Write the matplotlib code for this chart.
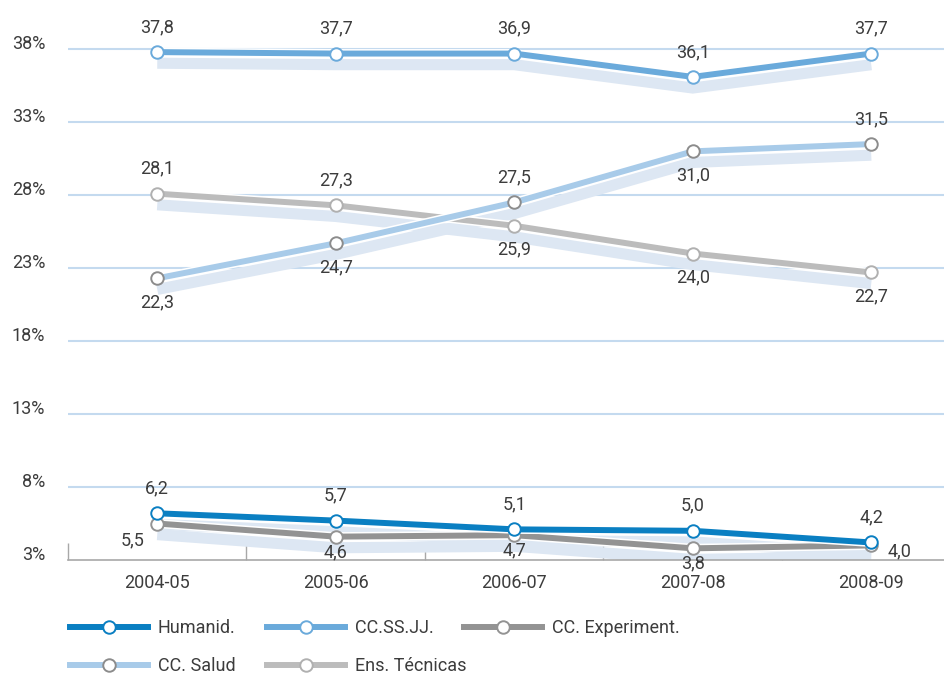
import matplotlib
matplotlib.use("Agg")
import matplotlib.pyplot as plt
import matplotlib.patheffects as pe
from matplotlib.lines import Line2D
from matplotlib.transforms import offset_copy, ScaledTranslation

plt.rcParams['font.family'] = ['Roboto', 'DejaVu Sans']

years = ['2004-05', '2005-06', '2006-07', '2007-08', '2008-09']
yticks = [3, 8, 13, 18, 23, 28, 33, 38]

humanid = [6.2, 5.7, 5.1, 5.0, 4.2]
ccssjj = [37.8, 37.7, 37.7, 36.1, 37.7]
ccssjj_lab = ['37,8', '37,7', '36,9', '36,1', '37,7']
experiment = [5.5, 4.6, 4.7, 3.8, 4.0]
salud = [22.3, 24.7, 27.5, 31.0, 31.5]
tecnicas = [28.1, 27.3, 25.9, 24.0, 22.7]

def fmt(vals):
    return [f"{v:.1f}".replace('.', ',') for v in vals]

txt_col = '#3c3c3c'
shadow_col = '#dde7f3'
fs = 13

# name, values, labels, line colour, marker edge colour, label placement
series = [
    ('CC.SS.JJ.', ccssjj, ccssjj_lab, '#6aaadb', '#6aaadb', 'aaaaa'),
    ('Ens. Técnicas', tecnicas, fmt(tecnicas), '#bcbcbc', '#b0b0b0', 'aabbb'),
    ('CC. Salud', salud, fmt(salud), '#a8cbe9', '#8c8c8c', 'bbaba'),
    ('CC. Experiment.', experiment, fmt(experiment), '#939393', '#939393', 'lsssr'),
    ('Humanid.', humanid, fmt(humanid), '#0a7fc2', '#0a7fc2', 'aaaaa'),
]
offsets = {'a': (0, 18), 'b': (0, -17), 's': (0, -11), 'l': (-18, -12), 'r': (20, -4)}

fig = plt.figure(figsize=(9.45, 6.75), dpi=100)
ax = fig.add_axes([68/945, 1 - 560/675, 1 - 68/945, (560 - 20)/675])
x = list(range(len(years)))

shadow_tr = offset_copy(ax.transData, fig=fig, x=0, y=-8, units='points')
for name, vals, labs, col, ecol, pos in series:
    ax.plot(x, vals, color=shadow_col, lw=8, transform=shadow_tr,
            solid_capstyle='butt', solid_joinstyle='miter', zorder=2)

handles = {}
for i, (name, vals, labs, col, ecol, pos) in enumerate(series):
    ax.plot(x, vals, color=col, lw=4.3, solid_capstyle='butt', zorder=3 + i,
            path_effects=[pe.Stroke(linewidth=6.5, foreground='white'), pe.Normal()])
    ax.plot(x, vals, ls='none', marker='o', ms=9, mfc='white', mec=ecol, mew=1.4,
            zorder=3.5 + i, clip_on=False)
    for xi, v, lab, p in zip(x, vals, labs, pos):
        ax.annotate(lab, (xi, v), xytext=offsets[p], textcoords='offset points',
                    ha='center', va='center', fontsize=fs, color=txt_col, zorder=20)
    handles[name] = Line2D([], [], color=col, lw=4.3, marker='o', ms=9,
                           mfc='white', mec=ecol, mew=1.4)

ax.set_yticks(yticks)
ax.set_yticklabels([f"{t}%" for t in yticks])
ax.set_xticks(x)
ax.set_xticklabels(years)
ax.set_xticks([i - 0.5 for i in range(len(years) + 1)], minor=True)
ax.set_xlim(-0.5, -0.5 + 877/178.5)
ax.set_ylim(3, 40)
ax.tick_params(axis='x', which='major', length=0, pad=10, labelsize=fs, labelcolor=txt_col)
ax.tick_params(axis='x', which='minor', direction='in', length=12, width=1, color='#a8a8a8')
ax.tick_params(axis='y', length=0, pad=16.5, labelsize=fs, labelcolor=txt_col)
for lab in ax.get_yticklabels():
    lab.set_transform(lab.get_transform() + ScaledTranslation(0, 7/100, fig.dpi_scale_trans))

for t in yticks[1:]:
    ax.axhline(t, color='#c4daef', lw=1.5, zorder=1)
for s in ['top', 'right', 'left']:
    ax.spines[s].set_visible(False)
ax.spines['bottom'].set_color('#a8a8a8')
ax.spines['bottom'].set_linewidth(1.2)

# legend entries placed one by one (left edge of handle, centre row)
legend_pos = [('Humanid.', 70, 628), ('CC.SS.JJ.', 267, 628), ('CC. Experiment.', 464, 628),
              ('CC. Salud', 70, 666), ('Ens. Técnicas', 267, 666)]
for name, px, py in legend_pos:
    leg = fig.legend([handles[name]], [name], loc='center left',
                     bbox_to_anchor=(px/945, 1 - py/675), frameon=False, fontsize=fs,
                     handlelength=4.3, handletextpad=0.55, borderpad=0, borderaxespad=0,
                     labelcolor=txt_col)

fig.savefig('out.png', dpi=100)
